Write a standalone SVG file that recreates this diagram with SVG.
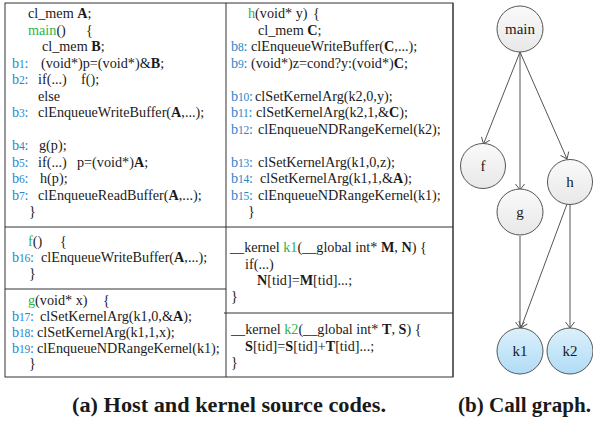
<svg xmlns="http://www.w3.org/2000/svg" width="593" height="421" viewBox="0 0 593 421">
  <style>
    .code { font-family: "Liberation Serif", "DejaVu Serif", serif; font-size: 14.2px; fill: #1a1a1a; }
    .lbl { fill: #2a86c8; letter-spacing: -0.2px; }
    .num { font-size: 11.5px; }
    .fn { fill: #2fb24a; }
    .b { font-weight: bold; }
    .frame { fill: none; stroke: #333; stroke-width: 1; }
    .cap { font-family: "Liberation Serif", "DejaVu Serif", serif; font-size: 20px; font-weight: bold; fill: #1a1a1a; }
    .node { stroke: #555; stroke-width: 1; }
    .ntext { font-family: "Liberation Serif", "DejaVu Serif", serif; font-size: 15px; fill: #1a1a1a; text-anchor: middle; }
    .edge { fill: none; stroke: #555; stroke-width: 1; }
  </style>
  <defs>
    <linearGradient id="gGray" x1="0" y1="0" x2="0" y2="1">
      <stop offset="0" stop-color="#fafafa"/>
      <stop offset="1" stop-color="#e8e8e8"/>
    </linearGradient>
    <linearGradient id="gBlue" x1="0" y1="0" x2="0" y2="1">
      <stop offset="0" stop-color="#dcf0fc"/>
      <stop offset="1" stop-color="#b0dcf6"/>
    </linearGradient>
    <marker id="vee" markerUnits="userSpaceOnUse" markerWidth="14" markerHeight="14" viewBox="-8 -7 10 14" refX="0" refY="0" orient="auto">
      <path d="M-6,-4.5 L0,0 L-6,4.5" fill="none" stroke="#555" stroke-width="1"/>
    </marker>
  </defs>

  <!-- code panel frame -->
  <g id="frame">
    <rect class="frame" x="5" y="3" width="448" height="374"/>
    <line class="frame" x1="453" y1="3" x2="453" y2="377" stroke-width="2"/>
    <line class="frame" x1="226" y1="3" x2="226" y2="377"/>
    <line class="frame" x1="5" y1="227" x2="226" y2="227"/>
    <line class="frame" x1="5" y1="289" x2="226" y2="289"/>
    <line class="frame" x1="226" y1="227" x2="453" y2="227"/>
    <line class="frame" x1="224" y1="313" x2="453" y2="313"/>
  </g>

  <!-- host: main -->
  <g id="main-src" class="code">
    <text x="28" y="18">cl_mem <tspan class="b">A</tspan>;</text>
    <text x="28" y="34.5"><tspan class="fn">main</tspan>()</text>
    <text x="86" y="34.5">{</text>
    <text x="42" y="51">cl_mem <tspan class="b">B</tspan>;</text>
    <text x="12" y="67.5" class="lbl">b<tspan class="num">1</tspan>:</text>
    <text x="41" y="67.5">(void*)p=(void*)&amp;<tspan class="b">B</tspan>;</text>
    <text x="12" y="84" class="lbl">b<tspan class="num">2</tspan>:</text>
    <text x="38" y="84">if(...)</text>
    <text x="81" y="84">f();</text>
    <text x="38" y="100.5">else</text>
    <text x="12" y="117" class="lbl">b<tspan class="num">3</tspan>:</text>
    <text x="38" y="117">clEnqueueWriteBuffer(<tspan class="b">A</tspan>,...);</text>
    <text x="12" y="150" class="lbl">b<tspan class="num">4</tspan>:</text>
    <text x="39" y="150">g(p);</text>
    <text x="12" y="166.5" class="lbl">b<tspan class="num">5</tspan>:</text>
    <text x="38" y="166.5">if(...)</text>
    <text x="77" y="166.5">p=(void*)<tspan class="b">A</tspan>;</text>
    <text x="12" y="183" class="lbl">b<tspan class="num">6</tspan>:</text>
    <text x="40" y="183">h(p);</text>
    <text x="12" y="199.5" class="lbl">b<tspan class="num">7</tspan>:</text>
    <text x="38" y="199.5">clEnqueueReadBuffer(<tspan class="b">A</tspan>,...);</text>
    <text x="29" y="216">}</text>
  </g>

  <!-- host: f -->
  <g id="f-src" class="code">
    <text x="28" y="246"><tspan class="fn">f</tspan>()</text>
    <text x="60" y="246">{</text>
    <text x="12" y="262" class="lbl">b<tspan class="num">16</tspan>:</text>
    <text x="41" y="262">clEnqueueWriteBuffer(<tspan class="b">A</tspan>,...);</text>
    <text x="29" y="278">}</text>
  </g>

  <!-- host: g -->
  <g id="g-src" class="code">
    <text x="28" y="305"><tspan class="fn">g</tspan>(void* x)</text>
    <text x="103" y="305">{</text>
    <text x="12" y="321" class="lbl">b<tspan class="num">17</tspan>:</text>
    <text x="40" y="321">clSetKernelArg(k1,0,&amp;<tspan class="b">A</tspan>);</text>
    <text x="12" y="337" class="lbl">b<tspan class="num">18</tspan>:</text>
    <text x="37" y="337">clSetKernelArg(k1,1,x);</text>
    <text x="12" y="352.5" class="lbl">b<tspan class="num">19</tspan>:</text>
    <text x="37" y="352.5">clEnqueueNDRangeKernel(k1);</text>
    <text x="29" y="368">}</text>
  </g>

  <!-- host: h -->
  <g id="h-src" class="code">
    <text x="248" y="18"><tspan class="fn">h</tspan>(void* y)</text>
    <text x="313" y="18">{</text>
    <text x="258" y="34.5">cl_mem <tspan class="b">C</tspan>;</text>
    <text x="231" y="51" class="lbl">b<tspan class="num">8</tspan>:</text>
    <text x="251" y="51">clEnqueueWriteBuffer(<tspan class="b">C</tspan>,...);</text>
    <text x="231" y="67.5" class="lbl">b<tspan class="num">9</tspan>:</text>
    <text x="251" y="67.5">(void*)z=cond?y:(void*)<tspan class="b">C</tspan>;</text>
    <text x="231" y="100.5" class="lbl">b<tspan class="num">10</tspan>:</text>
    <text x="255" y="100.5">clSetKernelArg(k2,0,y);</text>
    <text x="231" y="117" class="lbl">b<tspan class="num">11</tspan>:</text>
    <text x="256" y="117">clSetKernelArg(k2,1,&amp;<tspan class="b">C</tspan>);</text>
    <text x="231" y="133.5" class="lbl">b<tspan class="num">12</tspan>:</text>
    <text x="258" y="133.5">clEnqueueNDRangeKernel(k2);</text>
    <text x="231" y="166.5" class="lbl">b<tspan class="num">13</tspan>:</text>
    <text x="258" y="166.5">clSetKernelArg(k1,0,z);</text>
    <text x="231" y="183" class="lbl">b<tspan class="num">14</tspan>:</text>
    <text x="260" y="183">clSetKernelArg(k1,1,&amp;<tspan class="b">A</tspan>);</text>
    <text x="231" y="199.5" class="lbl">b<tspan class="num">15</tspan>:</text>
    <text x="258" y="199.5">clEnqueueNDRangeKernel(k1);</text>
    <text x="248" y="216">}</text>
  </g>

  <!-- kernel k1 -->
  <g id="k1-src" class="code">
    <text x="230" y="252">__kernel <tspan class="fn">k1</tspan>(__global int* <tspan class="b">M</tspan>, <tspan class="b">N</tspan>) {</text>
    <text x="245" y="269">if(...)</text>
    <text x="257" y="285"><tspan class="b">N</tspan>[tid]=<tspan class="b">M</tspan>[tid]...;</text>
    <text x="231" y="301">}</text>
  </g>

  <!-- kernel k2 -->
  <g id="k2-src" class="code">
    <text x="231" y="334">__kernel <tspan class="fn">k2</tspan>(__global int* <tspan class="b">T</tspan>, <tspan class="b">S</tspan>) {</text>
    <text x="245" y="351"><tspan class="b">S</tspan>[tid]=<tspan class="b">S</tspan>[tid]+<tspan class="b">T</tspan>[tid]...;</text>
    <text x="231" y="367">}</text>
  </g>

  <!-- call graph edges -->
  <g id="edges">
    <line class="edge" x1="520" y1="52" x2="483.5" y2="144" marker-end="url(#vee)"/>
    <line class="edge" x1="520" y1="52" x2="520" y2="190" marker-end="url(#vee)"/>
    <line class="edge" x1="520" y1="52" x2="567" y2="159" marker-end="url(#vee)"/>
    <line class="edge" x1="520" y1="236" x2="520" y2="328" marker-end="url(#vee)"/>
    <line class="edge" x1="567" y1="204" x2="521" y2="328" marker-end="url(#vee)"/>
    <line class="edge" x1="570" y1="204" x2="570" y2="328" marker-end="url(#vee)"/>
  </g>

  <!-- call graph nodes -->
  <g id="node-main">
    <circle class="node" cx="520" cy="29" r="23" fill="url(#gGray)"/>
    <text class="ntext" x="520" y="34">main</text>
  </g>
  <g id="node-f">
    <circle class="node" cx="483" cy="166" r="22.5" fill="url(#gGray)"/>
    <text class="ntext" x="483" y="171">f</text>
  </g>
  <g id="node-g">
    <circle class="node" cx="520" cy="212" r="23" fill="url(#gGray)"/>
    <text class="ntext" x="520" y="217">g</text>
  </g>
  <g id="node-h">
    <circle class="node" cx="570" cy="182" r="22.5" fill="url(#gGray)"/>
    <text class="ntext" x="570" y="187">h</text>
  </g>
  <g id="node-k1">
    <circle class="node" cx="520" cy="351" r="23" fill="url(#gBlue)"/>
    <text class="ntext" x="520" y="356">k1</text>
  </g>
  <g id="node-k2">
    <circle class="node" cx="570" cy="351" r="23" fill="url(#gBlue)"/>
    <text class="ntext" x="570" y="356">k2</text>
  </g>

  <!-- captions -->
  <text class="cap" x="72" y="412" textLength="314" lengthAdjust="spacingAndGlyphs">(a) Host and kernel source codes.</text>
  <text class="cap" x="458" y="412" textLength="133" lengthAdjust="spacingAndGlyphs">(b) Call graph.</text>
</svg>
